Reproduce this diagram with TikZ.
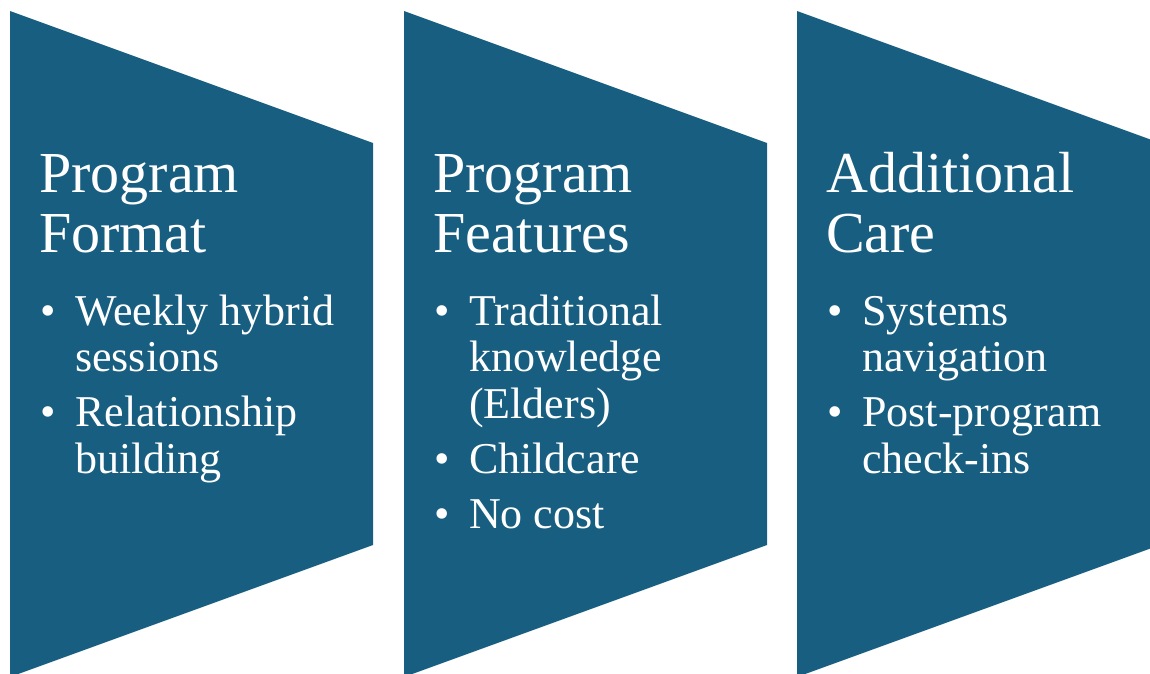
\documentclass[tikz,border=0pt]{standalone}
\usepackage{fontspec}
\setmainfont{Liberation Serif}
\usepackage{xcolor}
\usepackage{array}
\usetikzlibrary{positioning}
\definecolor{stageblue}{RGB}{23,94,128}

\begin{document}
\begin{tikzpicture}[x=1pt, y=-1pt,
    stage/.style={fill=stageblue},
    heading/.style={anchor=base west, inner sep=0pt, text=white, font=\fontsize{58}{60}\selectfont},
    points/.style={anchor=base west, inner sep=0pt, text=white, font=\fontsize{44}{46.5}\selectfont}]
    \useasboundingbox (0,0) rectangle (1150,673);
    \clip (0,0) rectangle (1150,673);

    % the three chevron panels
    \fill[stage] (10,11) -- (373,143) -- (373,545) -- (10,677) -- cycle;
    \fill[stage] (404,11) -- (767,143) -- (767,545) -- (404,677) -- cycle;
    \fill[stage] (797,11) -- (1160,143) -- (1160,545) -- (797,677) -- cycle;

    \node[heading] (format) at (39,192) {\begin{tabular}[t]{@{}l@{}}Program\\Format\end{tabular}};
    \node[points] (format-list) at (40,325) {\begin{tabular}[t]{@{}p{35pt}@{}l@{}}
        \textbullet & Weekly hybrid\\ & sessions\\[8.5pt]
        \textbullet & Relationship\\ & building
      \end{tabular}};

    \node[heading] (features) at (433,192) {\begin{tabular}[t]{@{}l@{}}Program\\Features\end{tabular}};
    \node[points] (features-list) at (434,325) {\begin{tabular}[t]{@{}p{35pt}@{}l@{}}
        \textbullet & Traditional\\ & knowledge\\ & (Elders)\\[8.5pt]
        \textbullet & Childcare\\[8.5pt]
        \textbullet & No cost
      \end{tabular}};

    \node[heading] (care) at (826,192) {\begin{tabular}[t]{@{}l@{}}Additional\\Care\end{tabular}};
    \node[points] (care-list) at (827,325) {\begin{tabular}[t]{@{}p{35pt}@{}l@{}}
        \textbullet & Systems\\ & navigation\\[8.5pt]
        \textbullet & Post-program\\ & check-ins
      \end{tabular}};
  \end{tikzpicture}
\end{document}
